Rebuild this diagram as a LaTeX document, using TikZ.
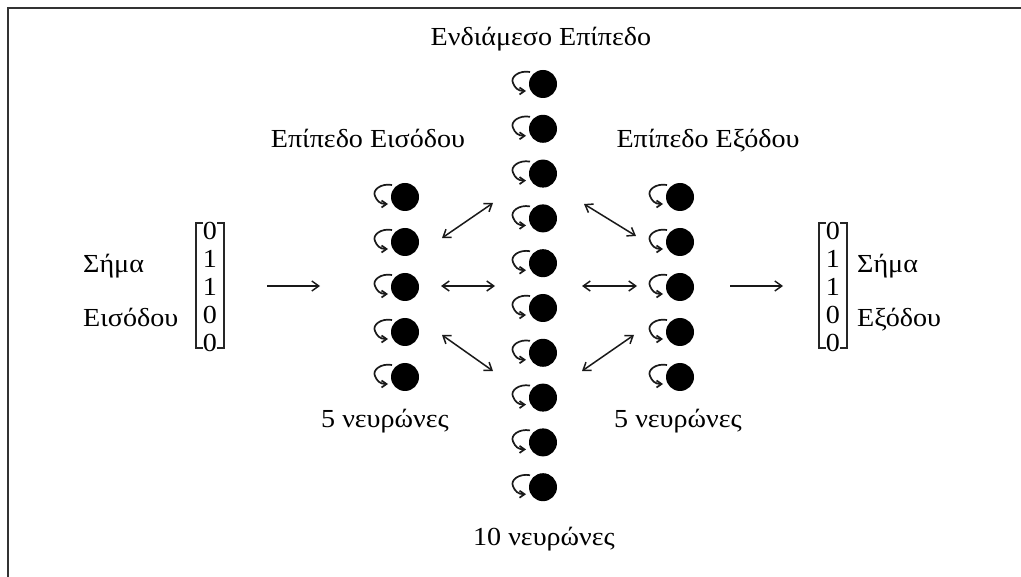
\documentclass[tikz,border=0pt]{standalone}
\usepackage{fontspec}
\setmainfont{Liberation Serif}[FakeStretch=1.08]
\usetikzlibrary{arrows.meta}
\begin{document}
\begin{tikzpicture}[x=1pt,y=-1pt,
  neuron/.style={circle,fill=black,minimum size=28pt,inner sep=0pt},
  lbl/.style={font=\fontsize{26}{30}\selectfont,anchor=base,inner sep=0pt,text=black},
  link/.style={{Straight Barb[length=7pt,width=10pt]}-{Straight Barb[length=7pt,width=10pt]},line width=1.5pt,draw=black!90},
  feed/.style={-{Straight Barb[length=7pt,width=10pt]},line width=1.4pt,draw=black!90},
  selfarrow/.style={-{Straight Barb[length=5pt,width=7pt]},line width=1.7pt,draw=black!90},
  bracket/.style={line width=1.8pt,draw=black!85},
  frame/.style={line width=1.8pt,draw=black!80},
  selfloop/.pic={\draw[selfarrow] (-13,-12) .. controls (-24,-14) and (-33,-7) .. (-30,-1) .. controls (-28,4) and (-25,7) .. (-17,7);}]
\useasboundingbox (0,0) rectangle (1021,577);
\draw[frame] (1021,8) -- (8,8) -- (8,577);

% neurons
\foreach \i/\y in {1/197,2/242,3/287,4/332,5/377}{
  \node[neuron] (in\i) at (405,\y) {};
  \pic at (in\i) {selfloop};
  \node[neuron] (out\i) at (680,\y) {};
  \pic at (out\i) {selfloop};
}
\foreach \i in {1,...,10}{
  \node[neuron] (h\i) at (543,{84+44.8*(\i-1)}) {};
  \pic at (h\i) {selfloop};
}

% labels
\node[lbl] (tmid) at (541,46) {Ενδιάμεσο Επίπεδο};
\node[lbl] (tin) at (368,148) {Επίπεδο Εισόδου};
\node[lbl] (tout) at (708,148) {Επίπεδο Εξόδου};
\node[lbl] (nin) at (385,428) {5 νευρώνες};
\node[lbl] (nout) at (678,428) {5 νευρώνες};
\node[lbl] (nmid) at (544,545) {10 νευρώνες};

% input signal
\node[lbl,anchor=base west] (sin1) at (83,273) {Σήμα};
\node[lbl,anchor=base west] (sin2) at (83,327) {Εισόδου};
\draw[bracket] (203,223) -- (196,223) -- (196,348) -- (203,348);
\draw[bracket] (217,223) -- (224,223) -- (224,348) -- (217,348);
\foreach \k/\v in {1/0,2/1,3/1,4/0,5/0}{
  \node[lbl] (vin\k) at (210,{240+28*(\k-1)}) {\v};
}

% output signal
\node[lbl,anchor=base west] (sout1) at (857,273) {Σήμα};
\node[lbl,anchor=base west] (sout2) at (857,327) {Εξόδου};
\draw[bracket] (826,223) -- (819,223) -- (819,348) -- (826,348);
\draw[bracket] (840,223) -- (847,223) -- (847,348) -- (840,348);
\foreach \k/\v in {1/0,2/1,3/1,4/0,5/0}{
  \node[lbl] (vout\k) at (833,{240+28*(\k-1)}) {\v};
}

% arrow end points
\coordinate (fa1) at (267,286); \coordinate (fa2) at (320,286);
\coordinate (fb1) at (730,286); \coordinate (fb2) at (783,286);
\coordinate (la1) at (442,238); \coordinate (la2) at (493,203);
\coordinate (lb1) at (441,286); \coordinate (lb2) at (495,286);
\coordinate (lc1) at (442,335); \coordinate (lc2) at (493,371);
\coordinate (ra1) at (584,204); \coordinate (ra2) at (636,236);
\coordinate (rb1) at (582,286); \coordinate (rb2) at (637,286);
\coordinate (rc1) at (582,371); \coordinate (rc2) at (634,335);

\draw[feed] (fa1) -- (fa2);
\draw[feed] (fb1) -- (fb2);
\draw[link] (la1) -- (la2);
\draw[link] (lb1) -- (lb2);
\draw[link] (lc1) -- (lc2);
\draw[link] (ra1) -- (ra2);
\draw[link] (rb1) -- (rb2);
\draw[link] (rc1) -- (rc2);
\end{tikzpicture}
\end{document}
